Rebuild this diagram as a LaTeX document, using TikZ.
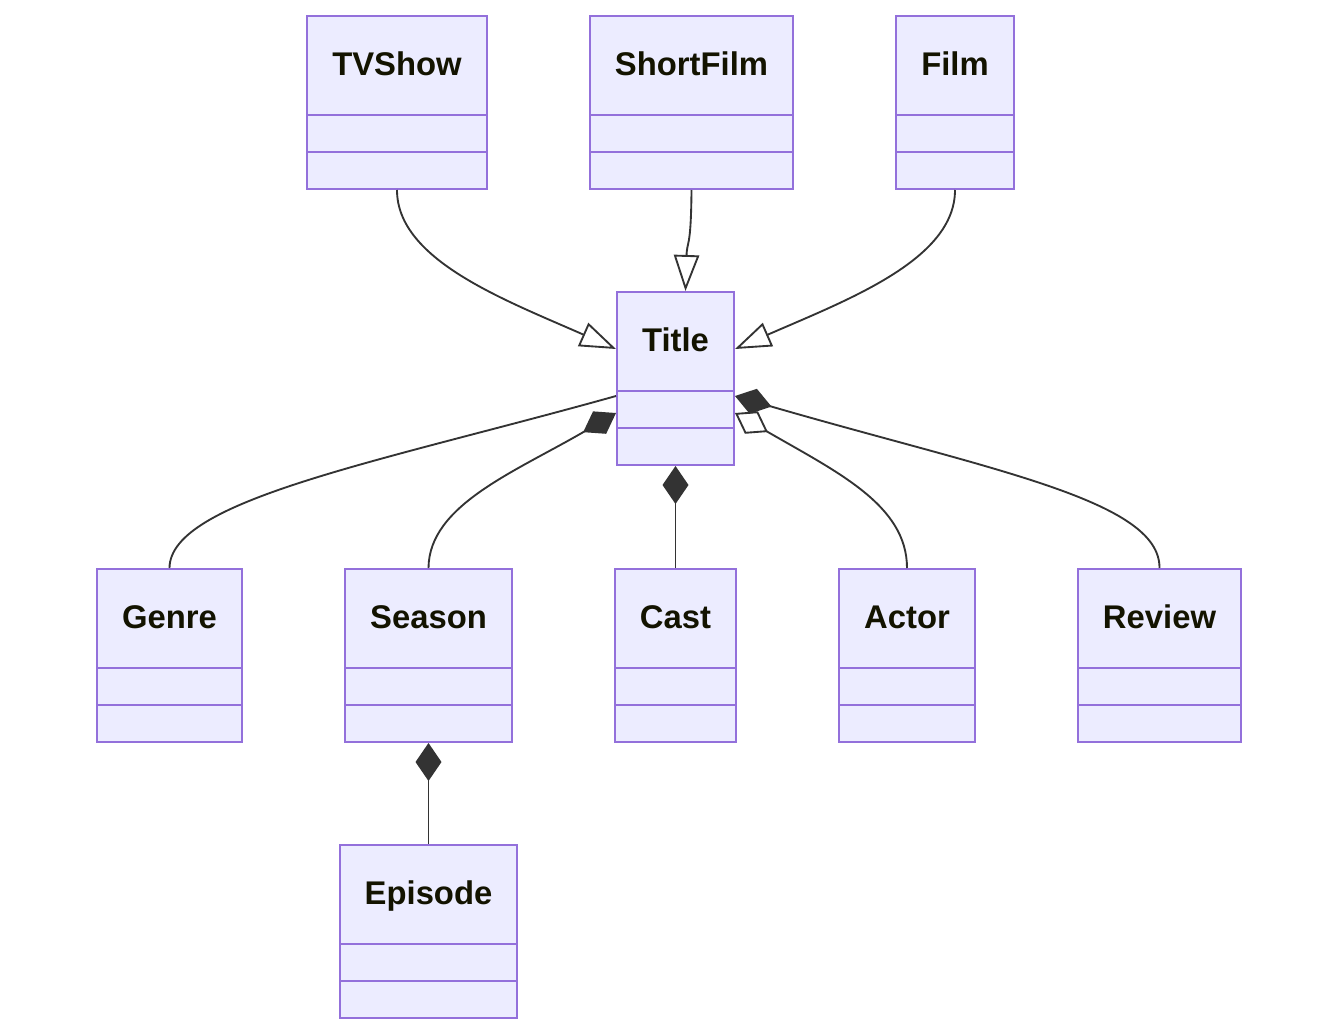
\documentclass[tikz,border=0pt]{standalone}
\usepackage{fontspec}
\setmainfont{Liberation Sans}
\usetikzlibrary{arrows.meta,fit,calc}
\definecolor{boxfill}{HTML}{ECECFF}
\definecolor{boxline}{HTML}{9370DB}
\definecolor{edgecol}{HTML}{333333}
\definecolor{txt}{HTML}{131300}
\tikzset{
  classbox/.style={draw=boxline, fill=boxfill, line width=1.5pt, inner sep=0pt},
  divider/.style={draw=boxline, line width=1.5pt},
  lbl/.style={font=\bfseries\fontsize{24.6}{28}\selectfont, text=txt, anchor=base, inner sep=0pt},
  conn/.style={draw=edgecol, line width=1.4pt},
  inherit/.style={conn, -{Triangle[open, fill=white, length=27pt, width=19pt]}},
  compo/.style={conn, -{Diamond[fill=edgecol, length=28.5pt, width=19.5pt]}},
  aggr/.style={conn, -{Diamond[open, fill=white, length=28.5pt, width=19.5pt]}},
}
\newcommand{\umlclass}[7]{% name, x1, x2, ytop, ybottom, label, unused
  \node[classbox, fit={(#2,#4) (#3,#5)}] (#1) {};
  \node[lbl] (#1-lbl) at ($(#1.north)+(0,60.5)$) {#6};
  \draw[divider] ($(#1.north west)+(0,99.5)$) -- ($(#1.north east)+(0,99.5)$);
  \draw[divider] ($(#1.north west)+(0,136.5)$) -- ($(#1.north east)+(0,136.5)$);
}
\begin{document}
\begin{tikzpicture}[x=0.75pt, y=-0.75pt]
\useasboundingbox (0,0) rectangle (1339,1035);
\umlclass{tvshow}{307}{487}{16}{189}{TVShow}{}
\umlclass{shortfilm}{590}{793}{16}{189}{ShortFilm}{}
\umlclass{film}{896}{1014}{16}{189}{Film}{}
\umlclass{title}{617}{734}{292}{465}{Title}{}
\umlclass{genre}{97}{242}{569}{742}{Genre}{}
\umlclass{season}{345}{512}{569}{742}{Season}{}
\umlclass{cast}{615}{736}{569}{742}{Cast}{}
\umlclass{actor}{839}{975}{569}{742}{Actor}{}
\umlclass{review}{1078}{1241}{569}{742}{Review}{}
\umlclass{episode}{340}{517}{845}{1018}{Episode}{}

% inheritance
\draw[inherit] (tvshow.south) .. controls (397,260) and (505,300) .. ($(title.west)+(0,-29.5)$);
\draw[inherit] (shortfilm.south) .. controls (691,250) and (687,240) .. ($(title.north)+(10,0)$);
\draw[inherit] (film.south) .. controls (955,260) and (847,300) .. ($(title.east)+(0,-29.5)$);

% associations / compositions
\draw[conn] (genre.north) .. controls (170,500) and (380,462) .. ($(title.west)+(0,17.5)$);
\draw[compo] (season.north) .. controls (429,505) and (515,472) .. ($(title.west)+(0,34.5)$);
\draw[compo] (cast.north) -- (title.south);
\draw[aggr] (actor.north) .. controls (907,505) and (837,472) .. ($(title.east)+(0,34.5)$);
\draw[compo] (review.north) .. controls (1160,500) and (990,470) .. ($(title.east)+(0,17.5)$);
\draw[compo] (episode.north) -- (season.south);
\end{tikzpicture}
\end{document}
